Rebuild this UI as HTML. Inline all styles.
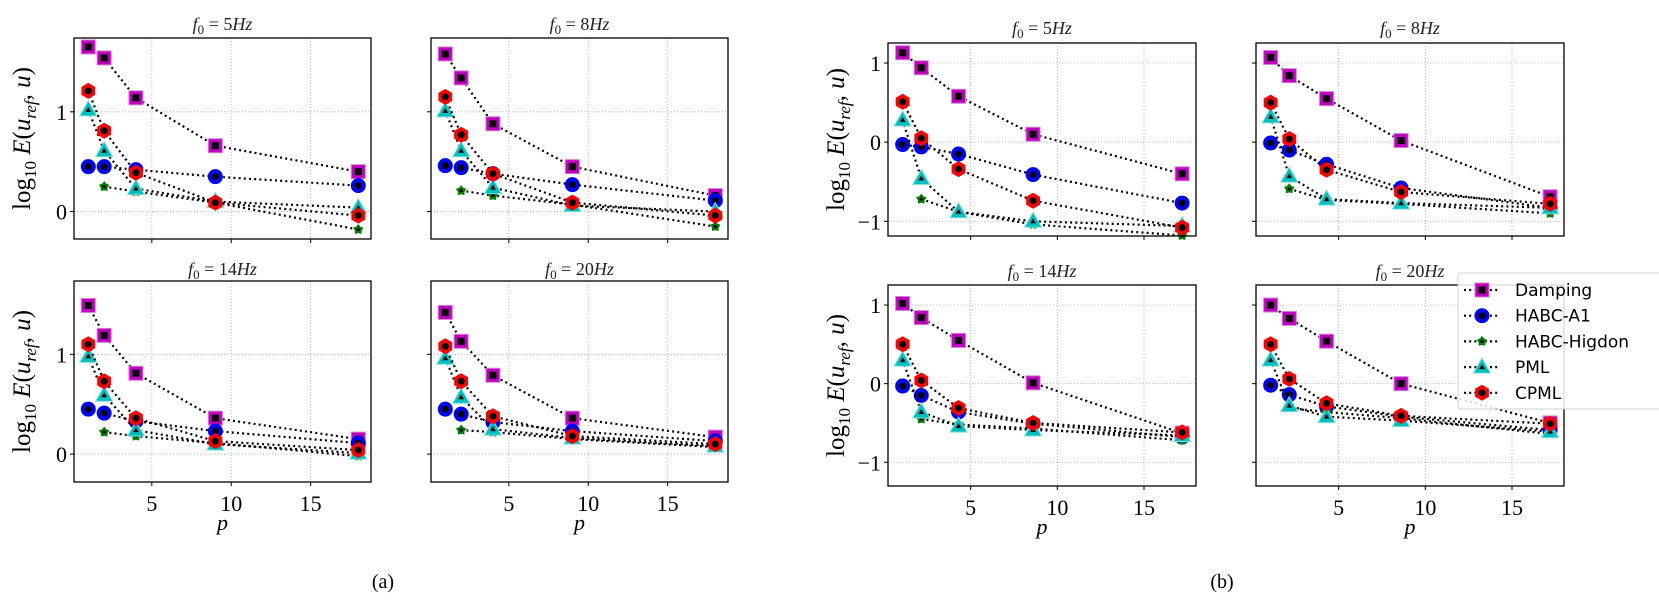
<!DOCTYPE html>
<html><head><meta charset="utf-8"><style>
html,body{margin:0;padding:0;background:#fff;}
svg{display:block;}
.tk{font-family:"Liberation Serif",serif;font-size:22px;fill:#000;}
.ti{font-family:"Liberation Serif",serif;font-size:18px;fill:#222;}
.yl{font-family:"Liberation Serif",serif;font-size:25px;fill:#000;}
.lg{font-family:"DejaVu Sans","Liberation Sans",sans-serif;font-size:17px;fill:#000;}
</style></head><body>
<svg id="fig" width="1659" height="611" viewBox="0 0 1659 611" xmlns="http://www.w3.org/2000/svg"></svg>
<script>
// ---- data ----
const seriesNames = ["Damping","HABC-A1","HABC-Higdon","PML","CPML"];
const xsA = [1,2,4,9,18];
const xsB = [1.075,2.15,4.3,8.6,17.2];
const freqLabels = ["5","8","14","20"];
// (a) panels: rows = Damping, HABC-A1, HABC-Higdon, PML, CPML
const a5  = [[1.65,1.54,1.14,0.66,0.40],[0.45,0.45,0.42,0.35,0.26],[null,0.25,0.20,0.09,-0.18],[1.02,0.61,0.23,0.10,0.04],[1.21,0.81,0.39,0.09,-0.04]];
const a8  = [[1.58,1.34,0.88,0.45,0.16],[0.46,0.44,0.38,0.27,0.11],[null,0.21,0.16,0.07,-0.15],[1.01,0.61,0.24,0.06,0.00],[1.15,0.77,0.38,0.09,-0.04]];
const a14 = [[1.49,1.19,0.81,0.36,0.15],[0.45,0.41,0.33,0.23,0.11],[null,0.22,0.18,0.11,-0.02],[0.98,0.59,0.24,0.10,0.01],[1.10,0.73,0.36,0.13,0.04]];
const a20 = [[1.42,1.13,0.79,0.36,0.17],[0.45,0.40,0.32,0.23,0.13],[null,0.24,0.22,0.15,0.07],[0.96,0.57,0.25,0.16,0.08],[1.08,0.73,0.38,0.18,0.10]];
// (b) panels
const b5  = [[1.13,0.94,0.58,0.10,-0.40],[-0.03,-0.06,-0.15,-0.41,-0.77],[null,-0.72,-0.88,-1.04,-1.18],[0.28,-0.46,-0.88,-1.00,-1.06],[0.51,0.05,-0.34,-0.74,-1.08]];
const b8  = [[1.07,0.84,0.55,0.02,-0.69],[-0.01,-0.10,-0.28,-0.58,-0.83],[null,-0.59,-0.73,-0.78,-0.90],[0.32,-0.43,-0.72,-0.77,-0.83],[0.50,0.04,-0.35,-0.63,-0.78]];
const b14 = [[1.02,0.84,0.55,0.01,-0.63],[-0.03,-0.15,-0.36,-0.51,-0.68],[null,-0.45,-0.52,-0.57,-0.72],[0.30,-0.36,-0.54,-0.59,-0.66],[0.50,0.04,-0.31,-0.50,-0.62]];
const b20 = [[1.00,0.83,0.54,0.00,-0.50],[-0.02,-0.14,-0.29,-0.42,-0.59],[null,-0.31,-0.36,-0.44,-0.64],[0.30,-0.28,-0.42,-0.47,-0.61],[0.50,0.06,-0.25,-0.41,-0.51]];
const xTicks = [5,10,15];
const yTicksA = [0,1];
const yTicksB = [-1,0,1];

// ---- layout ----
const NS = "http://www.w3.org/2000/svg";
const svg = document.getElementById("fig");
function el(tag, attrs, parent){ const e=document.createElementNS(NS,tag); for(const k in attrs) e.setAttribute(k,attrs[k]); (parent||svg).appendChild(e); return e; }

const panels = [
 {id:"a-5hz", data:a5, xs:xsA, f:0, L:74, R:371, T:38, B:239, xd:[0.1,18.8], yd:[-0.275,1.74], yt:yTicksA, ylab:true, xlab:false, titleY:30},
 {id:"a-8hz", data:a8, xs:xsA, f:1, L:431, R:728, T:38, B:239, xd:[0.1,18.8], yd:[-0.275,1.74], yt:yTicksA, ylab:false, xlab:false, titleY:30},
 {id:"a-14hz", data:a14, xs:xsA, f:2, L:74, R:371, T:281, B:482, xd:[0.1,18.8], yd:[-0.28,1.735], yt:yTicksA, ylab:true, xlab:true, titleY:275},
 {id:"a-20hz", data:a20, xs:xsA, f:3, L:431, R:728, T:281, B:482, xd:[0.1,18.8], yd:[-0.28,1.735], yt:yTicksA, ylab:false, xlab:true, titleY:275},
 {id:"b-5hz", data:b5, xs:xsB, f:0, L:888, R:1196, T:43, B:236, xd:[0.23,18.0], yd:[-1.186,1.253], yt:yTicksB, ylab:true, xlab:false, titleY:34},
 {id:"b-8hz", data:b8, xs:xsB, f:1, L:1256, R:1564, T:43, B:236, xd:[0.23,18.0], yd:[-1.186,1.253], yt:yTicksB, ylab:false, xlab:false, titleY:34},
 {id:"b-14hz", data:b14, xs:xsB, f:2, L:888, R:1196, T:285, B:486, xd:[0.23,18.0], yd:[-1.302,1.255], yt:yTicksB, ylab:true, xlab:true, titleY:277},
 {id:"b-20hz", data:b20, xs:xsB, f:3, L:1256, R:1564, T:285, B:486, xd:[0.23,18.0], yd:[-1.302,1.255], yt:yTicksB, ylab:false, xlab:true, titleY:277}
];

function drawMarker(g, kind, x, y){
  if(kind===0){
    el("rect",{x:x-7,y:y-7,width:14,height:14,fill:"#bf00bf",stroke:"#d27fd2","stroke-width":1},g);
    el("rect",{x:x-3.5,y:y-3.5,width:7,height:7,fill:"#000"},g);
  } else if(kind===1){
    el("circle",{cx:x,cy:y,r:7.5,fill:"#0000ff"},g);
    el("circle",{cx:x,cy:y,r:3.5,fill:"#000"},g);
  } else if(kind===2){
    let p=[]; for(let i=0;i<10;i++){const a=-Math.PI/2+i*Math.PI/5; const r=i%2?3.6:5.5; p.push((x+r*Math.cos(a)).toFixed(1)+","+(y+r*Math.sin(a)).toFixed(1));}
    el("polygon",{points:p.join(" "),fill:"#008000"},g);
    el("circle",{cx:x,cy:y,r:1.6,fill:"#000"},g);
  } else if(kind===3){
    el("polygon",{points:`${x},${y-9} ${x+8.5},${y+6} ${x-8.5},${y+6}`,fill:"#00bfbf",stroke:"#7fdfdf","stroke-width":1},g);
    el("polygon",{points:`${x},${y-3} ${x+2.8},${y+2} ${x-2.8},${y+2}`,fill:"#000"},g);
  } else {
    let p=[]; for(let i=0;i<6;i++){const a=Math.PI/2+i*Math.PI/3; p.push((x+8*Math.cos(a)).toFixed(1)+","+(y+8*Math.sin(a)).toFixed(1));}
    el("polygon",{points:p.join(" "),fill:"#ff0000"},g);
    el("circle",{cx:x,cy:y,r:3.5,fill:"#000"},g);
  }
}

panels.forEach((P)=>{
  const g = el("g",{});
  
  
  const sx = v => P.L + (v-P.xd[0])/(P.xd[1]-P.xd[0])*(P.R-P.L);
  const sy = v => P.B - (v-P.yd[0])/(P.yd[1]-P.yd[0])*(P.B-P.T);
  xTicks.forEach(t=>{ const x=sx(t);
    el("line",{x1:x,x2:x,y1:P.T,y2:P.B,stroke:"#b0b0b0","stroke-width":0.8,"stroke-dasharray":"1,2"},g);
    el("line",{x1:x,x2:x,y1:P.B,y2:P.B+4,stroke:"#000","stroke-width":1},g);
    if(P.xlab){ const t2=el("text",{x:x,y:P.B+29,"text-anchor":"middle",class:"tk"},g); t2.textContent=t;
        }
  });
  P.yt.forEach(t=>{ const y=sy(t);
    el("line",{x1:P.L,x2:P.R,y1:y,y2:y,stroke:"#b0b0b0","stroke-width":0.8,"stroke-dasharray":"1,2"},g);
    el("line",{x1:P.L-4,x2:P.L,y1:y,y2:y,stroke:"#000","stroke-width":1},g);
    if(P.ylab){ const t2=el("text",{x:P.L-7,y:y+8,"text-anchor":"end",class:"tk"},g); t2.textContent=(t<0?"\u2212"+Math.abs(t):t);
        }
  });
  const clipId="clip-"+P.id;
  const cp=el("clipPath",{id:clipId},g); el("rect",{x:P.L-8,y:P.T-8,width:P.R-P.L+16,height:P.B-P.T+16},cp);
  const sg=el("g",{"clip-path":`url(#${clipId})`},g);
  P.data.forEach((vals,si)=>{
    const s=el("g",{},sg);
    
    
    const pts=[]; vals.forEach((v,i)=>{ if(v!==null) pts.push(sx(P.xs[i]).toFixed(1)+","+sy(v).toFixed(1)); });
    el("polyline",{points:pts.join(" "),fill:"none",stroke:"#000","stroke-width":2.2,"stroke-dasharray":"2,3.2"},s);
    vals.forEach((v,i)=>{ if(v!==null) drawMarker(s,si,sx(P.xs[i]),sy(v)); });
  });
  el("rect",{x:P.L,y:P.T,width:P.R-P.L,height:P.B-P.T,fill:"none",stroke:"#000","stroke-width":1.3},g);
  const tt=el("text",{x:(P.L+P.R)/2,y:P.titleY,"text-anchor":"middle",class:"ti"},g);
   
  tt.innerHTML=`<tspan font-style="italic">f</tspan><tspan font-size="13" dy="4">0</tspan><tspan dy="-4"> = ${freqLabels[P.f]}</tspan><tspan font-style="italic">Hz</tspan>`;
  if(P.ylab){
    const cx=P.L-44, cy=(P.T+P.B)/2;
    const yl=el("text",{x:cx,y:cy,"text-anchor":"middle",class:"yl",transform:`rotate(-90 ${cx} ${cy})`},g);
     
    yl.innerHTML=`log<tspan font-size="17" dy="6">10</tspan><tspan dy="-6" font-style="italic"> E</tspan>(<tspan font-style="italic">u</tspan><tspan font-size="17" dy="6" font-style="italic">ref</tspan><tspan dy="-6">, </tspan><tspan font-style="italic">u</tspan>)`;
  }
  if(P.xlab){
    const xl=el("text",{x:(P.L+P.R)/2,y:P.B+48,"text-anchor":"middle",class:"tk","font-style":"italic"},g);
     
    xl.textContent="p";
  }
});

const ca=el("text",{x:383,y:588,"text-anchor":"middle",class:"tk"});
 
ca.style.fontSize="20px"; ca.textContent="(a)";
const cb=el("text",{x:1222,y:588,"text-anchor":"middle",class:"tk"});
 
cb.style.fontSize="20px"; cb.textContent="(b)";

const lg=el("g",{});
 
el("rect",{x:1458,y:273,width:220,height:136,rx:3,fill:"#fff","fill-opacity":0.85,stroke:"#d0d0d0","stroke-width":1},lg);
seriesNames.forEach((n,i)=>{
  const y=290+i*25.7;
  const e=el("g",{},lg);
  
  
  el("line",{x1:1464,x2:1500,y1:y,y2:y,stroke:"#000","stroke-width":2.2,"stroke-dasharray":"2,3.2"},e);
  drawMarker(e,i,1482,y);
  const t=el("text",{x:1515,y:y+6,class:"lg"},e); t.textContent=n;
});
</script>
</body></html>
